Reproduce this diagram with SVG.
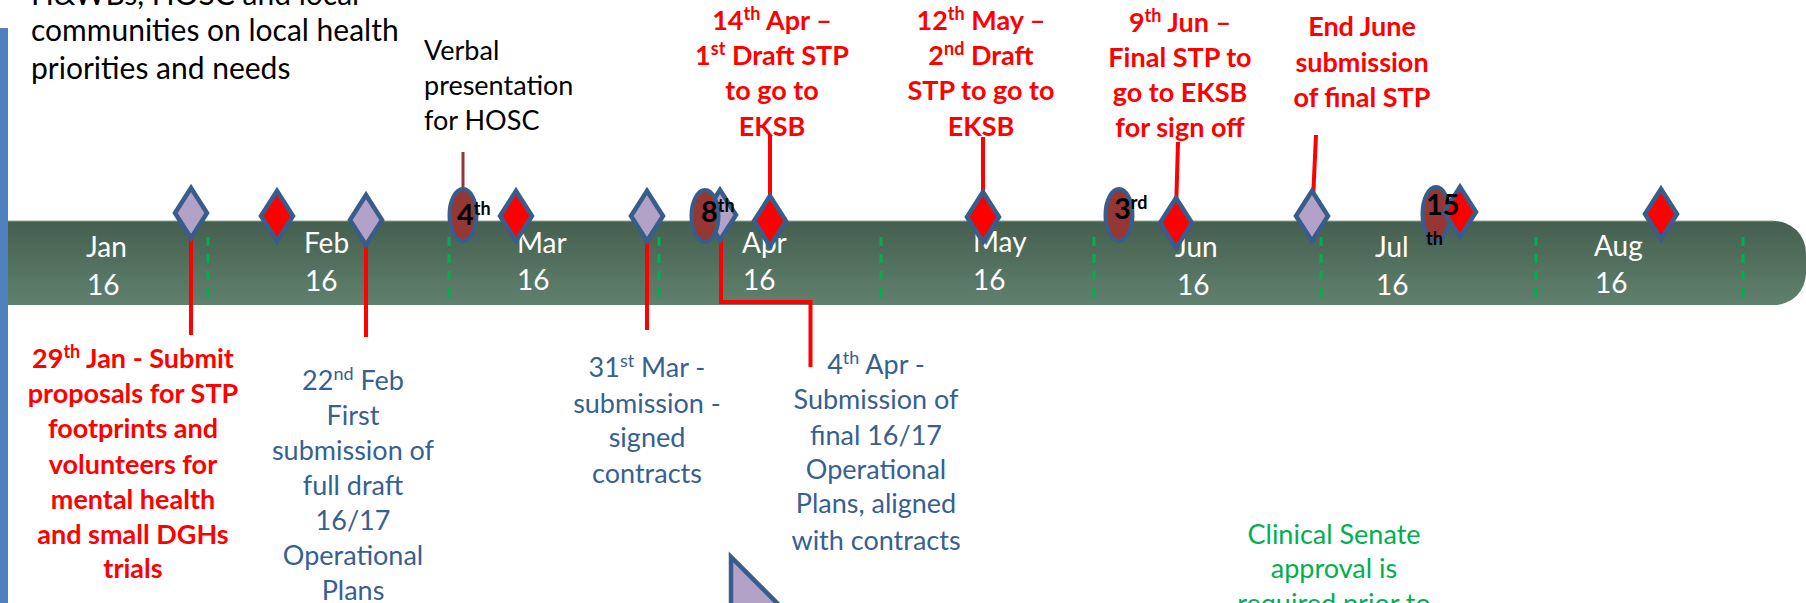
<svg xmlns="http://www.w3.org/2000/svg" width="1806" height="603" viewBox="0 0 1806 603">
<defs>
<linearGradient id="bandG" x1="0" y1="0" x2="0" y2="1">
<stop offset="0" stop-color="#455F4F"/>
<stop offset="1" stop-color="#60816D"/>
</linearGradient>
<path id="dia" d="M0,-25 L16,0 L0,25 L-16,0 Z"/>
</defs>
<style>
text{font-family:Lato,"Liberation Sans",sans-serif}
.red{fill:#FF0000;font-weight:bold;font-size:27px;text-anchor:middle}
.blue{fill:#376092;font-size:27px;text-anchor:middle}
.green{fill:#00B050;font-size:27px;text-anchor:middle}
.blk{fill:#000;font-size:27px}
.mon{fill:#FFFFFF;font-size:28px}
.num{fill:#000;font-weight:bold;font-size:29px}
.sup{font-size:18px}
.lav{fill:#B3A2C7;stroke:#385D8A;stroke-width:4.5;stroke-linejoin:miter}
.rd{fill:#FF0000;stroke:#385D8A;stroke-width:4.5}
.ell{fill:#953735;stroke:#385D8A;stroke-width:4}
.ln{stroke:#FF0000;stroke-width:4;fill:none}
.dash{stroke:#00B050;stroke-width:3;stroke-dasharray:9 8}
</style>
<rect width="1806" height="603" fill="#FFFFFF"/>
<g id="timeline-band">
<path d="M8,221 H1774 A32,32 0 0 1 1806,253 V273 A32,32 0 0 1 1774,305 H8 Z" fill="url(#bandG)"/>
<line x1="8" y1="221" x2="1774" y2="221" stroke="#8FA496" stroke-width="1.2"/>
<g id="month-dividers">
<line class="dash" x1="208" y1="237" x2="208" y2="298"/>
<line class="dash" x1="449" y1="237" x2="449" y2="298"/>
<line class="dash" x1="659" y1="237" x2="659" y2="298"/>
<line class="dash" x1="881" y1="237" x2="881" y2="298"/>
<line class="dash" x1="1094" y1="237" x2="1094" y2="298"/>
<line class="dash" x1="1321" y1="237" x2="1321" y2="298"/>
<line class="dash" x1="1536" y1="237" x2="1536" y2="298"/>
<line class="dash" x1="1743" y1="237" x2="1743" y2="298"/>
</g>
<g id="month-labels" class="mon">
<text class="mon" x="86" y="257">Jan</text><text class="mon" x="87" y="295">16</text>
<text class="mon" x="304" y="253">Feb</text><text class="mon" x="305" y="291">16</text>
<text class="mon" x="517" y="253">Mar</text><text class="mon" x="517" y="290">16</text>
<text class="mon" x="742" y="253">Apr</text><text class="mon" x="743" y="290">16</text>
<text class="mon" x="973" y="252">May</text><text class="mon" x="973" y="290">16</text>
<text class="mon" x="1175" y="257">Jun</text><text class="mon" x="1177" y="295">16</text>
<text class="mon" x="1375" y="257">Jul</text><text class="mon" x="1376" y="295">16</text>
<text class="mon" x="1594" y="256">Aug</text><text class="mon" x="1595" y="293">16</text>
</g>
</g>
<rect id="left-bar" x="0" y="28" width="8" height="575" fill="#4F81BD"/>
<g id="intro-text" class="blk">
<text class="blk" x="31" y="5" style="font-size:30px">H&amp;WBs, HOSC and local</text>
<text class="blk" x="31" y="41" style="font-size:30px">communities on local health</text>
<text class="blk" x="31" y="79" style="font-size:30px">priorities and needs</text>
</g>
<g id="connectors">
<line x1="463" y1="152" x2="463" y2="192" stroke="#953735" stroke-width="3"/>
<line class="ln" x1="191" y1="236" x2="191" y2="335"/>
<line class="ln" x1="366" y1="244" x2="366" y2="337"/>
<line class="ln" x1="647" y1="240" x2="647" y2="330"/>
<path class="ln" d="M721,236 V302 H810.5 V367"/>
<line class="ln" x1="770" y1="135" x2="770" y2="214"/>
<line class="ln" x1="983" y1="137" x2="983" y2="210"/>
<line class="ln" x1="1178" y1="142" x2="1176" y2="212"/>
<line class="ln" x1="1316" y1="135" x2="1313" y2="200"/>
</g>
<g id="n-jan29"><use href="#dia" class="lav" x="191" y="213"/></g>
<g id="n-feb-red"><use href="#dia" class="rd" x="277" y="216"/></g>
<g id="n-feb22"><use href="#dia" class="lav" x="366" y="220"/></g>
<g id="n-mar4">
<ellipse class="ell" cx="463" cy="215" rx="13.5" ry="26"/>
<text class="num" x="457" y="225">4<tspan class="sup" dy="-10">th</tspan></text>
</g>
<g id="n-mar-red"><use href="#dia" class="rd" x="516" y="216"/></g>
<g id="n-mar31"><use href="#dia" class="lav" x="647" y="216"/></g>
<g id="n-apr4"><use href="#dia" class="lav" x="720" y="215"/></g>
<g id="n-apr8">
<ellipse class="ell" cx="705" cy="216" rx="13.5" ry="26"/>
<text class="num" x="701" y="222">8<tspan class="sup" dy="-10">th</tspan></text>
</g>
<g id="n-apr14"><use href="#dia" class="rd" x="770" y="221"/></g>
<g id="n-may12"><use href="#dia" class="rd" x="983" y="217"/></g>
<g id="n-jun3">
<ellipse class="ell" cx="1119" cy="215" rx="13.5" ry="26"/>
<text class="num" x="1114" y="219">3<tspan class="sup" dy="-10">rd</tspan></text>
</g>
<g id="n-jun9"><use href="#dia" class="rd" x="1176" y="223"/></g>
<g id="n-endjune"><use href="#dia" class="lav" x="1312" y="216"/></g>
<g id="n-jul15">
<ellipse class="ell" cx="1436" cy="214" rx="13.5" ry="27"/>
<use href="#dia" class="rd" x="1460" y="212"/>
<text class="num" x="1426" y="215">15</text>
<text class="num" x="1426" y="245" style="font-size:18px">th</text>
</g>
<g id="n-aug-red"><use href="#dia" class="rd" x="1661" y="214"/></g>
<g id="verbal-note">
<text class="blk" x="424" y="60">Verbal</text>
<text class="blk" x="424" y="95">presentation</text>
<text class="blk" x="424" y="130">for HOSC</text>
</g>
<g id="t-apr14" class="red">
<text class="red" x="772" y="30">14<tspan class="sup" dy="-10">th</tspan><tspan dy="10"> Apr –</tspan></text>
<text class="red" x="772" y="65">1<tspan class="sup" dy="-10">st</tspan><tspan dy="10"> Draft STP</tspan></text>
<text class="red" x="772" y="100">to go to</text>
<text class="red" x="772" y="136">EKSB</text>
</g>
<g id="t-may12">
<text class="red" x="981" y="30">12<tspan class="sup" dy="-10">th</tspan><tspan dy="10"> May –</tspan></text>
<text class="red" x="981" y="65">2<tspan class="sup" dy="-10">nd</tspan><tspan dy="10"> Draft</tspan></text>
<text class="red" x="981" y="100">STP to go to</text>
<text class="red" x="981" y="136">EKSB</text>
</g>
<g id="t-jun9">
<text class="red" x="1180" y="32">9<tspan class="sup" dy="-10">th</tspan><tspan dy="10"> Jun –</tspan></text>
<text class="red" x="1180" y="67">Final STP to</text>
<text class="red" x="1180" y="102">go to EKSB</text>
<text class="red" x="1180" y="137">for sign off</text>
</g>
<g id="t-endjune">
<text class="red" x="1362" y="36">End June</text>
<text class="red" x="1362" y="72">submission</text>
<text class="red" x="1362" y="107">of final STP</text>
</g>
<g id="t-jan29">
<text class="red" x="133" y="368">29<tspan class="sup" dy="-10">th</tspan><tspan dy="10"> Jan - Submit</tspan></text>
<text class="red" x="133" y="403">proposals for STP</text>
<text class="red" x="133" y="438">footprints and</text>
<text class="red" x="133" y="474">volunteers for</text>
<text class="red" x="133" y="509">mental health</text>
<text class="red" x="133" y="544">and small DGHs</text>
<text class="red" x="133" y="578">trials</text>
</g>
<g id="t-feb22">
<text class="blue" x="353" y="390">22<tspan class="sup" dy="-10">nd</tspan><tspan dy="10"> Feb</tspan></text>
<text class="blue" x="353" y="425">First</text>
<text class="blue" x="353" y="460">submission of</text>
<text class="blue" x="353" y="495">full draft</text>
<text class="blue" x="353" y="530">16/17</text>
<text class="blue" x="353" y="565">Operational</text>
<text class="blue" x="353" y="600">Plans</text>
</g>
<g id="t-mar31">
<text class="blue" x="647" y="377">31<tspan class="sup" dy="-10">st</tspan><tspan dy="10"> Mar -</tspan></text>
<text class="blue" x="647" y="413">submission -</text>
<text class="blue" x="647" y="447">signed</text>
<text class="blue" x="647" y="483">contracts</text>
</g>
<g id="t-apr4">
<text class="blue" x="876" y="374">4<tspan class="sup" dy="-10">th</tspan><tspan dy="10"> Apr -</tspan></text>
<text class="blue" x="876" y="409">Submission of</text>
<text class="blue" x="876" y="445">final 16/17</text>
<text class="blue" x="876" y="479">Operational</text>
<text class="blue" x="876" y="513">Plans, aligned</text>
<text class="blue" x="876" y="550">with contracts</text>
</g>
<g id="t-senate">
<text class="green" x="1334" y="544">Clinical Senate</text>
<text class="green" x="1334" y="578">approval is</text>
<text class="green" x="1334" y="613">required prior to</text>
</g>
<g id="triangle"><polygon points="731,557 731,620 794,620" fill="#B3A2C7" stroke="#385D8A" stroke-width="4.5"/></g>
</svg>
